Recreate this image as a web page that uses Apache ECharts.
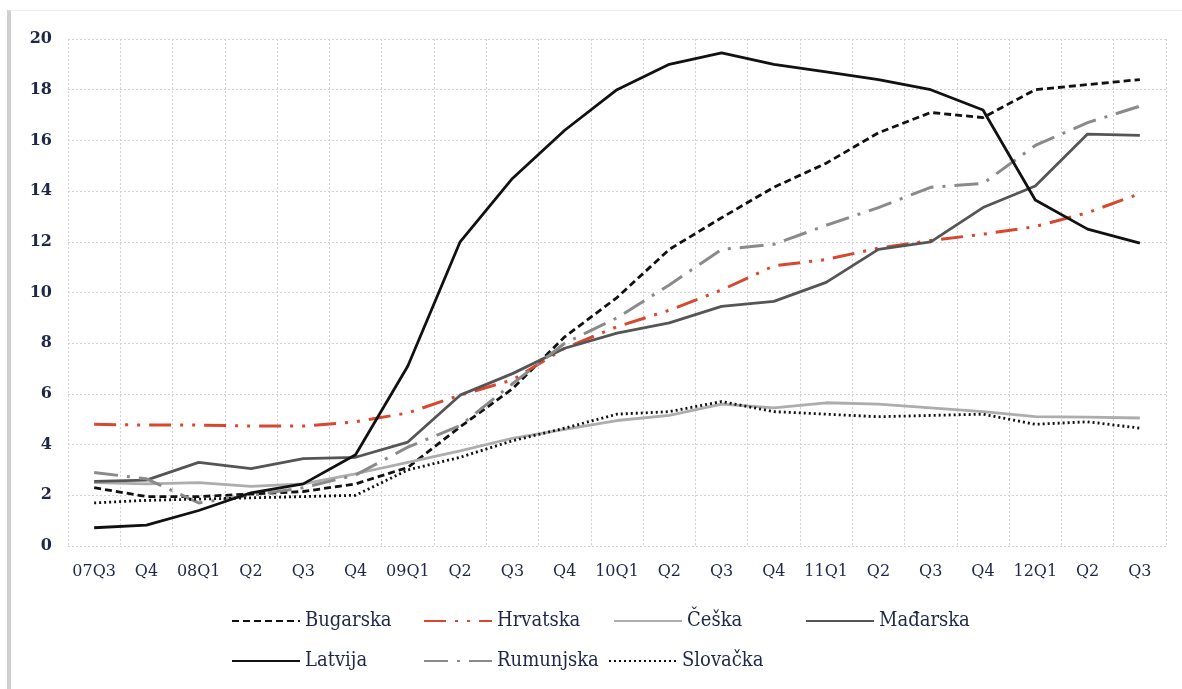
<!DOCTYPE html>
<html>
<head>
<meta charset="utf-8">
<script src="https://cdn.jsdelivr.net/npm/echarts@6/dist/echarts.min.js"></script>
<style>
html,body{margin:0;padding:0;background:#fff;}
#frame{position:absolute;left:7px;top:10px;width:1175px;height:679px;border-left:4px solid #cfcfcf;border-top:1px solid #ececec;box-sizing:border-box;}
#chart{position:absolute;left:0;top:0;width:1182px;height:689px;}
</style>
</head>
<body>
<div id="frame"></div>
<div id="chart"></div>
<script>
var categories = ['07Q3','07Q4','08Q1','08Q2','08Q3','08Q4','09Q1','09Q2','09Q3','09Q4','10Q1','10Q2','10Q3','10Q4','11Q1','11Q2','11Q3','11Q4','12Q1','12Q2','12Q3'];
var tickLabels = ['07Q3','Q4','08Q1','Q2','Q3','Q4','09Q1','Q2','Q3','Q4','10Q1','Q2','Q3','Q4','11Q1','Q2','Q3','Q4','12Q1','Q2','Q3'];
var yTicks = [0,2,4,6,8,10,12,14,16,18,20];

var bugarska  = [2.3,1.95,1.95,2.05,2.15,2.45,3.1,4.7,6.2,8.25,9.8,11.7,12.95,14.15,15.1,16.3,17.1,16.9,18.0,18.2,18.4];
var hrvatska  = [4.8,4.77,4.77,4.73,4.73,4.9,5.25,5.95,6.55,7.8,8.65,9.3,10.1,11.05,11.3,11.75,12.05,12.3,12.6,13.15,13.9];
var ceska     = [2.5,2.45,2.5,2.35,2.45,2.85,3.3,3.75,4.25,4.6,4.95,5.15,5.6,5.45,5.65,5.6,5.45,5.3,5.1,5.08,5.05];
var madarska  = [2.55,2.6,3.3,3.05,3.45,3.5,4.1,5.95,6.8,7.8,8.4,8.8,9.45,9.65,10.4,11.7,12.0,13.35,14.2,16.25,16.2];
var latvija   = [0.72,0.82,1.4,2.1,2.45,3.6,7.1,12.0,14.5,16.4,18.0,19.0,19.45,19.0,18.7,18.4,18.0,17.2,13.65,12.5,11.95];
var rumunjska = [2.9,2.65,1.7,2.0,2.3,2.8,3.9,4.75,6.4,8.0,9.0,10.3,11.7,11.9,12.65,13.35,14.15,14.3,15.8,16.7,17.35];
var slovacka  = [1.7,1.8,1.85,1.9,1.95,2.0,3.0,3.5,4.15,4.65,5.2,5.3,5.7,5.3,5.2,5.1,5.15,5.2,4.8,4.9,4.65];

var names = ['Bugarska','Hrvatska','Češka','Mađarska','Latvija','Rumunjska','Slovačka'];
var values = [bugarska,hrvatska,ceska,madarska,latvija,rumunjska,slovacka];
var styles = [
  {color:'#111111', width:2.8, type:[7,4]},
  {color:'#d9472e', width:3, type:[22,9,3,9,3,9]},
  {color:'#adadad', width:2.8, type:'solid'},
  {color:'#555555', width:2.8, type:'solid'},
  {color:'#111111', width:2.8, type:'solid'},
  {color:'#8a8a8a', width:3, type:[24,9,3,9]},
  {color:'#111111', width:2.8, type:[2,3]}
];
var legendPos = [
  {left:231, top:611},{left:423, top:611},{left:613, top:611},{left:805, top:611},
  {left:231, top:651},{left:423, top:651},{left:608, top:651}
];

var series = names.map(function(n,i){
  return {
    name:n, type:'line', data:values[i], symbol:'none', smooth:false,
    lineStyle:{color:styles[i].color, width:styles[i].width, type:styles[i].type, cap:'butt'},
    itemStyle:{color:styles[i].color},
    z: (n==='Latvija'?5:3)
  };
});
var legends = names.map(function(n,i){
  return {
    data:[n], left:legendPos[i].left, top:legendPos[i].top, orient:'horizontal',
    itemWidth:68, itemHeight:14, padding:0,
    itemStyle:{opacity:0},
    textStyle:{fontFamily:'DejaVu Serif Condensed, DejaVu Serif, serif', fontSize:20, color:'#1e2746'}
  };
});

var chart = echarts.init(document.getElementById('chart'), null, {renderer:'canvas'});
chart.setOption({
  animation:false,
  backgroundColor:'transparent',
  grid:{left:68, right:16, top:39, bottom:143, containLabel:false},
  legend:legends,
  xAxis:{
    type:'category', data:categories, boundaryGap:true,
    axisLine:{show:false}, axisTick:{show:false},
    axisLabel:{margin:18, interval:0, color:'#1e2746', fontFamily:'DejaVu Serif, serif', fontSize:16, fontWeight:500,
      formatter:function(v,idx){return tickLabels[idx];}},
    splitLine:{show:true, interval:0, lineStyle:{color:'#d2d2d2', width:1, type:[2,2]}}
  },
  yAxis:{
    type:'value', min:yTicks[0], max:yTicks[yTicks.length-1], interval:2,
    axisLine:{show:false}, axisTick:{show:false},
    axisLabel:{margin:16, color:'#1e2746', fontFamily:'DejaVu Serif, serif', fontSize:16, fontWeight:'bold'},
    splitLine:{show:true, lineStyle:{color:'#d2d2d2', width:1, type:[2,2]}}
  },
  series:series
});
</script>
</body>
</html>
